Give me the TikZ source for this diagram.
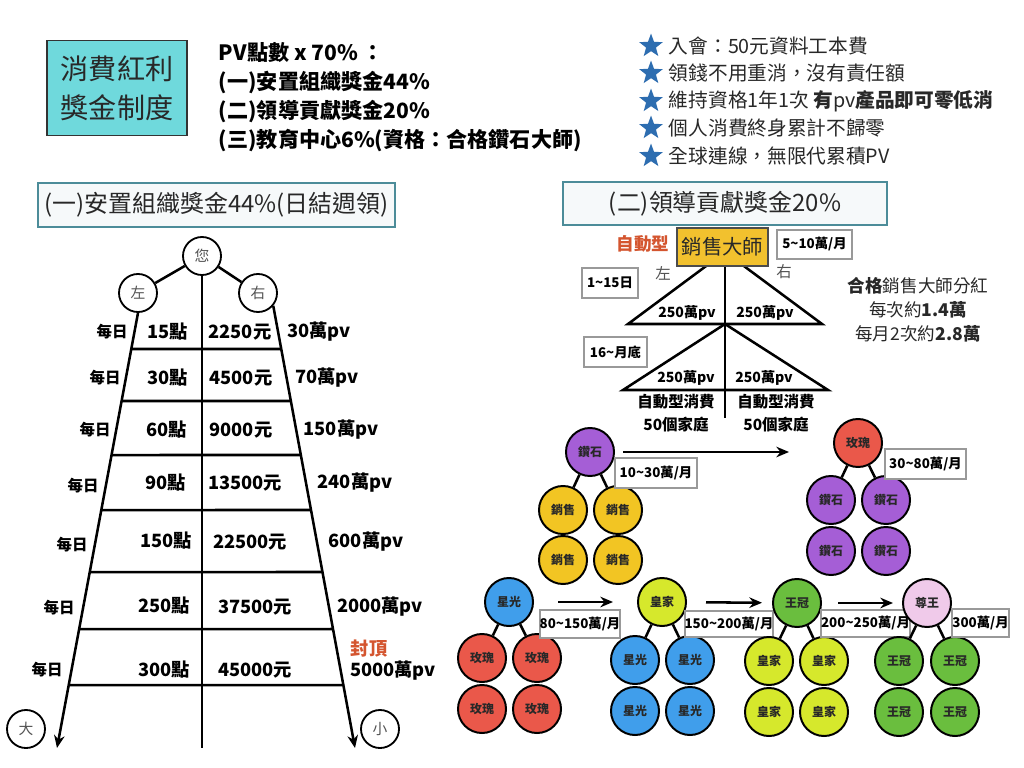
\documentclass[tikz,border=0pt]{standalone}
\usepackage{fontspec}
\setmainfont{Noto Sans CJK TC}
\usetikzlibrary{arrows.meta,shapes.geometric}

\definecolor{aqua}{RGB}{111,217,220}
\definecolor{frame}{RGB}{76,140,153}
\definecolor{starblue}{RGB}{45,109,176}
\definecolor{alert}{RGB}{212,85,47}
\definecolor{gold}{RGB}{242,193,46}
\definecolor{ink}{RGB}{40,40,40}
\definecolor{purpleC}{RGB}{165,94,214}
\definecolor{yellowC}{RGB}{242,197,35}
\definecolor{redC}{RGB}{234,88,74}
\definecolor{blueC}{RGB}{64,158,235}
\definecolor{limeC}{RGB}{214,232,44}
\definecolor{greenC}{RGB}{106,190,62}
\definecolor{pinkC}{RGB}{240,202,234}

\newcommand{\fsz}[2]{\fontsize{#1}{#2}\selectfont}

\tikzset{
	ball/.style={circle, draw=black, line width=1.4pt, minimum size=1.2cm, inner sep=0pt, font=\fsz{8.5pt}{9pt}\bfseries, text=ink},
	ring/.style={circle, draw=black, line width=1.3pt, minimum size=0.95cm, inner sep=0pt, fill=white, font=\fsz{10.5pt}{11pt}, text=ink!80},
	pad/.style={draw=black!40, line width=1.4pt, fill=white, inner sep=0pt, minimum height=0.73cm, font=\fsz{9.5pt}{10pt}\bfseries},
	titlebox/.style={draw=frame, line width=1.7pt, fill=frame!5, inner sep=0pt, font=\fsz{17pt}{18pt}, text=ink},
	day/.style={font=\fsz{11pt}{12pt}\bfseries},
	val/.style={font=\fsz{13pt}{14pt}\bfseries},
	pv/.style={font=\fsz{10pt}{11pt}\bfseries},
	bar/.style={line width=1.8pt},
	flow/.style={line width=1.8pt, -{Stealth[length=9pt,width=7.5pt]}},
	starmark/.style={star, star points=5, star point ratio=2.4, fill=starblue, minimum size=0.62cm, inner sep=0pt},
	note/.style={anchor=west, font=\fsz{14pt}{15pt}, text=ink},
	head/.style={anchor=west, font=\fsz{15pt}{16pt}\bfseries}
}

\begin{document}
\begin{tikzpicture}[x=0.025cm, y=-0.025cm]
	\useasboundingbox[fill=white] (0,0) rectangle (1024,768);

	% head
	\node[draw=black!80, line width=1.4pt, fill=aqua, minimum width=3.5cm, minimum height=2.375cm, align=center, font=\fsz{20pt}{28pt}, text=ink] (fee) at (117,88) {消費紅利\\獎金制度};
	\node[head] (pv0) at (214,53) {PV點數 x 70\% ：};
	\node[head] (pv1) at (214,83) {(一)安置組織獎金44\%};
	\node[head] (pv2) at (214,112) {(二)領導貢獻獎金20\%};
	\node[head] (pv3) at (214,141) {(三)教育中心6\%(資格：合格鑽石大師)};

	\node[starmark] (s1) at (651,46) {};
	\node[starmark] (s2) at (651,73) {};
	\node[starmark] (s3) at (651,101) {};
	\node[starmark] (s4) at (651,128) {};
	\node[starmark] (s5) at (651,156) {};
	\node[note] (n1) at (664,46) {入會：50元資料工本費};
	\node[note] (n2) at (664,73) {領錢不用重消，沒有責任額};
	\node[note] (n3) at (664,101) {維持資格1年1次 {\bfseries 有}pv{\bfseries 產品即可零低消}};
	\node[note] (n4) at (664,128) {個人消費終身累計不歸零};
	\node[note] (n5) at (664,156) {全球連線，無限代累積PV};

	% (一) placement bonus
	\node[titlebox, minimum width=8.925cm, minimum height=1.1cm] (t1) at (216.5,205) {(一)安置組織獎金44\%(日結週領)};
	\node[ring] (you) at (202,256) {您};
	\node[ring] (lft) at (138,293) {左};
	\node[ring] (rgt) at (258,293) {右};
	\node[ring] (big) at (26,729) {大};
	\node[ring] (small) at (380,729) {小};
	\coordinate (ltop) at (lft.south);
	\coordinate (rtop) at (rgt.-40);
	\coordinate (lend) at (57,748);
	\coordinate (rend) at (355,748);
	\coordinate (mend) at (202,748);
	\draw[bar] (you) -- (lft);
	\draw[bar] (you) -- (rgt);
	\draw[bar] (you) -- (mend);
	\draw[flow] (ltop) -- (lend);
	\draw[flow] (rtop) -- (rend);
	\foreach \y in {349,401,455,510,572,629,685}
		\draw[bar] (intersection of ltop--lend and 0,\y--100,\y) -- (intersection of rtop--rend and 0,\y--100,\y);

	\node[day] (e1) at (112,332) {每日}; \node[val] (p1) at (168,332) {15點}; \node[val] (m1) at (240,332) {2250元}; \node[val] (v1) at (319,332) {30萬pv};
	\node[day] (e2) at (105,378) {每日}; \node[val] (p2) at (168,378) {30點}; \node[val] (m2) at (241,378) {4500元}; \node[val] (v2) at (327,378) {70萬pv};
	\node[day] (e3) at (95,430) {每日}; \node[val] (p3) at (167,430) {60點}; \node[val] (m3) at (241,430) {9000元}; \node[val] (v3) at (341,430) {150萬pv};
	\node[day] (e4) at (83,486) {每日}; \node[val] (p4) at (166,483) {90點}; \node[val] (m4) at (245,483) {13500元}; \node[val] (v4) at (355,483) {240萬pv};
	\node[day] (e5) at (72,545) {每日}; \node[val] (p5) at (166,541) {150點}; \node[val] (m5) at (250,542) {22500元}; \node[val] (v5) at (366,542) {600萬pv};
	\node[day] (e6) at (59,608) {每日}; \node[val] (p6) at (164,606) {250點}; \node[val] (m6) at (255,607) {37500元}; \node[val] (v6) at (380,607) {2000萬pv};
	\node[day] (e7) at (47,670) {每日}; \node[val] (p7) at (164,670) {300點}; \node[val] (m7) at (255,670) {45000元}; \node[val] (v7) at (393,671) {5000萬pv};
	\node[val, text=alert] (cap) at (369,649) {封頂};

	% (二) leadership bonus
	\node[titlebox, minimum width=8.1cm, minimum height=1.075cm] (t2) at (725,203.5) {(二)領導貢獻獎金20\%};
	\coordinate (apex) at (725,252);
	\coordinate (b1l) at (628,324);
	\coordinate (b1r) at (822,324);
	\coordinate (mid) at (725,324);
	\coordinate (b2l) at (623,390);
	\coordinate (b2r) at (828,390);
	\coordinate (foot) at (725,418);
	\draw[bar] (apex) -- (b1l) -- (b1r) -- cycle;
	\draw[bar] (mid) -- (b2l) -- (b2r) -- cycle;
	\draw[bar] (apex) -- (foot);
	\node[draw=black!70, line width=1.4pt, fill=gold, minimum width=2.275cm, minimum height=0.95cm, inner sep=0pt, font=\fsz{14.5pt}{15pt}, text=ink] (master) at (722.5,247) {銷售大師};
	\node[font=\fsz{12.5pt}{13pt}\bfseries, text=alert] (auto) at (643,244) {自動型};
	\node[pad, minimum width=1.875cm] (q1) at (814.5,244.5) {5\textasciitilde{}10萬/月};
	\node[font=\fsz{11pt}{12pt}, text=ink!80] (ml) at (663,273) {左};
	\node[font=\fsz{11pt}{12pt}, text=ink!80] (mr) at (784,272) {右};
	\node[pad, minimum width=1.4cm, minimum height=0.75cm] (q2) at (610,283) {1\textasciitilde{}15日};
	\node[pad, minimum width=1.575cm, minimum height=0.75cm] (q3) at (615.5,352) {16\textasciitilde{}月底};
	\node[pv] (u1) at (687,313) {250萬pv};
	\node[pv] (u2) at (765,313) {250萬pv};
	\node[pv] (u3) at (686,378) {250萬pv};
	\node[pv] (u4) at (764,378) {250萬pv};
	\node[font=\fsz{11pt}{16pt}\bfseries, align=center] (fam1) at (676,413) {自動型消費\\50個家庭};
	\node[font=\fsz{11pt}{16pt}\bfseries, align=center] (fam2) at (776,413) {自動型消費\\50個家庭};
	\node[font=\fsz{12.5pt}{17pt}, align=center, text=ink] (share) at (918,310) {{\bfseries 合格}銷售大師分紅\\每次約{\bfseries 1.4萬}\\每月2次約{\bfseries 2.8萬}};

	% rank trees
	\node[ball, fill=purpleC] (d0) at (590,452) {鑽石};
	\node[ball, fill=yellowC] (d1) at (563,510) {銷售};
	\node[ball, fill=yellowC] (d2) at (618,510) {銷售};
	\node[ball, fill=yellowC] (d3) at (563,560) {銷售};
	\node[ball, fill=yellowC] (d4) at (618,560) {銷售};
	\draw[bar] (d0) -- (d1) (d0) -- (d2);
	\node[pad, minimum width=2.05cm, minimum height=0.75cm] (q4) at (656,473) {10\textasciitilde{}30萬/月};

	\node[ball, fill=redC] (r0) at (858,443) {玫瑰};
	\node[ball, fill=purpleC] (r1) at (831,500) {鑽石};
	\node[ball, fill=purpleC] (r2) at (886,500) {鑽石};
	\node[ball, fill=purpleC] (r3) at (831,551) {鑽石};
	\node[ball, fill=purpleC] (r4) at (886,551) {鑽石};
	\draw[bar] (r0) -- (r1) (r0) -- (r2);
	\node[pad, minimum width=2.025cm, minimum height=0.75cm] (q5) at (925.5,464) {30\textasciitilde{}80萬/月};
	\draw[flow, shorten <=0.2cm, shorten >=1.1cm] (d0.east) -- (d0.east -| r0.west);

	\node[ball, fill=blueC] (g0) at (509,602) {星光};
	\node[ball, fill=redC] (g1) at (482,658) {玫瑰};
	\node[ball, fill=redC] (g2) at (537,658) {玫瑰};
	\node[ball, fill=redC] (g3) at (482,709) {玫瑰};
	\node[ball, fill=redC] (g4) at (537,709) {玫瑰};
	\draw[bar] (g0) -- (g1) (g0) -- (g2);
	\node[pad, minimum width=1.95cm, minimum height=0.7cm] (q6) at (580,624) {80\textasciitilde{}150萬/月};

	\node[ball, fill=limeC] (h0) at (662,602) {皇家};
	\node[ball, fill=blueC] (h1) at (635,660) {星光};
	\node[ball, fill=blueC] (h2) at (690,660) {星光};
	\node[ball, fill=blueC] (h3) at (635,711) {星光};
	\node[ball, fill=blueC] (h4) at (690,711) {星光};
	\draw[bar] (h0) -- (h1) (h0) -- (h2);
	\node[pad, minimum width=2.1cm, minimum height=0.65cm] (q7) at (729,624) {150\textasciitilde{}200萬/月};

	\node[ball, fill=greenC] (k0) at (797,603) {王冠};
	\node[ball, fill=limeC] (k1) at (769,661) {皇家};
	\node[ball, fill=limeC] (k2) at (824,661) {皇家};
	\node[ball, fill=limeC] (k3) at (769,712) {皇家};
	\node[ball, fill=limeC] (k4) at (824,712) {皇家};
	\draw[bar] (k0) -- (k1) (k0) -- (k2);
	\node[pad, minimum width=2.125cm, minimum height=0.68cm] (q8) at (865.5,623.5) {200\textasciitilde{}250萬/月};

	\node[ball, fill=pinkC] (z0) at (927,603) {尊王};
	\node[ball, fill=greenC] (z1) at (899,661) {王冠};
	\node[ball, fill=greenC] (z2) at (955,661) {王冠};
	\node[ball, fill=greenC] (z3) at (899,712) {王冠};
	\node[ball, fill=greenC] (z4) at (955,712) {王冠};
	\draw[bar] (z0) -- (z1) (z0) -- (z2);
	\node[pad, minimum width=1.425cm, minimum height=0.7cm] (q9) at (980.5,623) {300萬/月};

	\draw[flow, shorten <=0.6cm, shorten >=0.6cm] (g0) -- (h0);
	\draw[flow, shorten <=0.475cm, shorten >=0.25cm] (h0) -- (k0);
	\draw[flow, shorten <=0.4cm, shorten >=0.225cm] (k0) -- (z0);
\end{tikzpicture}
\end{document}
